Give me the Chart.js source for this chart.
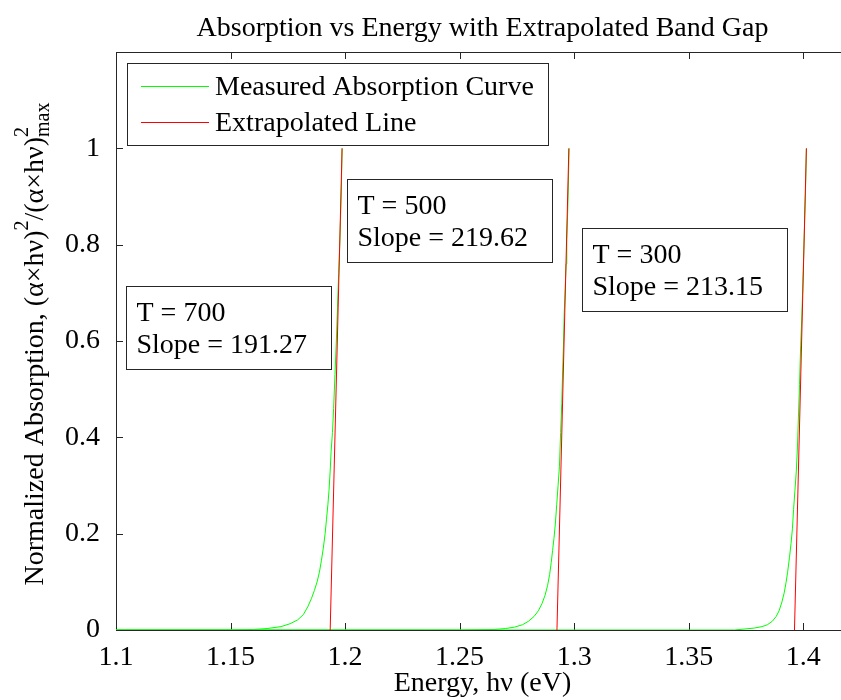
<!DOCTYPE html>
<html>
<head>
<title>Absorption vs Energy with Extrapolated Band Gap</title>
<script src="https://cdn.jsdelivr.net/npm/chart.js"></script>
<style>
html,body{margin:0;padding:0;background:#fff;overflow:hidden}
#wrap{width:880px;height:700px}
</style>
</head>
<body>
<div id="wrap"><canvas id="absChart" width="880" height="700"></canvas></div>
<script>
// axis ticks
const xTicks=[1.1,1.15,1.2,1.25,1.3,1.35,1.4];
const yTicks=[0,0.2,0.4,0.6,0.8,1];
const seriesNames=['Measured Absorption Curve','Extrapolated Line'];

// measured curves
const energy700=[1.100,1.150,1.160,1.166,1.172,1.176,1.1793,1.1818,1.1837,1.1853,1.1866,1.1878,1.1888,1.1897,1.1905,1.1913,1.1919,1.1925,1.1930,1.1935,1.1939,1.1945,1.1950,1.1956,1.1962,1.1967,1.1972,1.1976,1.1980,1.1984,1.1987];
const absorb700=[0,0,0.001,0.003,0.007,0.013,0.021,0.032,0.048,0.065,0.082,0.10,0.12,0.145,0.17,0.20,0.23,0.26,0.29,0.33,0.37,0.41,0.46,0.53,0.60,0.67,0.74,0.79,0.85,0.92,1.0];
const energy500=[1.100,1.250,1.265,1.270,1.274,1.2775,1.2800,1.2825,1.2844,1.2860,1.2873,1.2884,1.2893,1.2900,1.2906,1.2912,1.2918,1.2924,1.2930,1.2936,1.2941,1.2946,1.2950,1.2954,1.2957,1.2961,1.2965,1.2968,1.2972,1.2975,1.2978];
const absorb500=[0,0,0.001,0.003,0.006,0.011,0.018,0.028,0.04,0.055,0.072,0.092,0.115,0.14,0.165,0.19,0.22,0.26,0.30,0.34,0.41,0.47,0.54,0.60,0.66,0.71,0.76,0.81,0.87,0.93,1.0];
const energy300=[1.100,1.370,1.3786,1.3820,1.3844,1.3865,1.3882,1.3895,1.3907,1.3917,1.3925,1.3932,1.3940,1.3947,1.3953,1.3958,1.3964,1.3970,1.3975,1.3979,1.3984,1.3989,1.3994,1.3998,1.4003,1.4007,1.4011,1.4014];
const absorb300=[0,0,0.004,0.007,0.011,0.018,0.028,0.040,0.058,0.077,0.098,0.12,0.15,0.18,0.21,0.25,0.29,0.33,0.38,0.44,0.51,0.59,0.65,0.71,0.79,0.86,0.93,1.0];

// extrapolated lines
const fitEnergy700=[1.1935,1.1987];
const fitEnergy500=[1.2925,1.2977];
const fitEnergy300=[1.3962,1.4014];
const fitAbsorb=[0,1];

// text boxes
const temps=[700,500,300];
const slopes=['191.27','219.62','213.15'];

const FONT='"Liberation Serif", "Times New Roman", serif';
const GREEN='#00ff00', RED='#ff0000', AXIS='#262626';

function pts(xs,ys){return xs.map((v,i)=>({x:v,y:ys[i]}));}
function curve(xs,ys){return {data:pts(xs,ys),borderColor:GREEN,borderWidth:1,pointRadius:0,order:1};}
function fit(xs){return {data:pts(xs,fitAbsorb),borderColor:RED,borderWidth:1,pointRadius:0,order:0};}

// where the text boxes sit, in data units (left, top)
const noteAt=[{x:1.1044,y:0.714},{x:1.2009,y:0.936},{x:1.3035,y:0.835}];

const frame={
    id:'frame',
    beforeDatasetsDraw(c){
        const {ctx,chartArea:a,scales:{x,y}}=c;
        ctx.save();
        ctx.strokeStyle=AXIS;ctx.lineWidth=1;
        ctx.strokeRect(a.left+0.5,a.top+0.5,a.right-a.left,a.bottom-a.top);
        ctx.beginPath();
        xTicks.forEach(v=>{
            const px=Math.round(x.getPixelForValue(v))+0.5;
            ctx.moveTo(px,a.bottom);ctx.lineTo(px,a.bottom-7);
            ctx.moveTo(px,a.top);ctx.lineTo(px,a.top+7);
        });
        yTicks.forEach(v=>{
            const py=Math.round(y.getPixelForValue(v))+0.5;
            ctx.moveTo(a.left,py);ctx.lineTo(a.left+7,py);
            ctx.moveTo(a.right,py);ctx.lineTo(a.right-7,py);
        });
        ctx.stroke();
        ctx.restore();
    }
};

const extras={
    id:'extras',
    afterDraw(c){
        const {ctx,chartArea:a,scales:{x,y}}=c;
        ctx.save();
        ctx.fillStyle='#000';
        // title
        ctx.font='28px '+FONT;
        ctx.textAlign='center';ctx.textBaseline='alphabetic';
        ctx.fillText('Absorption vs Energy with Extrapolated Band Gap',(a.left+a.right)/2,36);

        // legend
        const lx=a.left+11, ly=a.top+11;
        ctx.fillStyle='#fff';ctx.fillRect(lx,ly,421,82);
        ctx.strokeStyle=AXIS;ctx.lineWidth=1;
        ctx.strokeRect(lx+0.5,ly+0.5,421,82);
        [GREEN,RED].forEach((col,i)=>{
            const yy=ly+23+i*36+0.5;
            ctx.strokeStyle=col;
            ctx.beginPath();ctx.moveTo(lx+14,yy);ctx.lineTo(lx+82,yy);ctx.stroke();
            ctx.fillStyle='#000';ctx.textAlign='left';ctx.textBaseline='middle';
            ctx.fillText(seriesNames[i],lx+88,yy+1);
        });

        // annotation boxes
        temps.forEach((t,i)=>{
            const bx=Math.round(x.getPixelForValue(noteAt[i].x))+0.5;
            const by=Math.round(y.getPixelForValue(noteAt[i].y))+0.5;
            ctx.fillStyle='#fff';ctx.fillRect(bx,by,205,83);
            ctx.strokeStyle=AXIS;ctx.strokeRect(bx,by,205,83);
            ctx.fillStyle='#000';ctx.textAlign='left';ctx.textBaseline='alphabetic';
            ctx.fillText('T = '+t,bx+10,by+34);
            ctx.fillText('Slope = '+slopes[i],bx+10,by+66);
        });

        // y label with super/subscripts
        const big='28px '+FONT, small='20px '+FONT;
        const p1='Normalized Absorption, (α×hν)', p2='/(α×hν)';
        ctx.font=big;
        const w1=ctx.measureText(p1).width, w2=ctx.measureText(p2).width;
        ctx.font=small;
        const ws=ctx.measureText('2').width, wm=ctx.measureText('max').width;
        const total=w1+ws+w2+Math.max(ws,wm);
        ctx.translate(43,(a.top+a.bottom)/2+3);
        ctx.rotate(-Math.PI/2);
        ctx.textAlign='left';ctx.textBaseline='alphabetic';
        let cx=-total/2;
        ctx.font=big;ctx.fillText(p1,cx,0);cx+=w1;
        ctx.font=small;ctx.fillText('2',cx,-15);cx+=ws;
        ctx.font=big;ctx.fillText(p2,cx,0);cx+=w2;
        ctx.font=small;ctx.fillText('2',cx,-15);ctx.fillText('max',cx,6);
        ctx.restore();
    }
};

const fmt=v=>String(Math.round(v*100)/100);

new Chart(document.getElementById('absChart'),{
    type:'line',
    data:{datasets:[
        curve(energy700,absorb700),curve(energy500,absorb500),curve(energy300,absorb300),
        fit(fitEnergy700),fit(fitEnergy500),fit(fitEnergy300)
    ]},
    options:{
        responsive:false,animation:false,events:[],
        layout:{padding:{top:52,right:31,left:0,bottom:0}},
        elements:{line:{tension:0}},
        plugins:{legend:{display:false},title:{display:false},tooltip:{enabled:false}},
        scales:{
            x:{
                type:'linear',min:1.1,max:1.42,
                afterBuildTicks:s=>{s.ticks=xTicks.map(v=>({value:v}));},
                afterFit:s=>{s.height=70;},
                grid:{display:false},border:{display:false},
                ticks:{color:'#000',font:{family:FONT,size:28},padding:3,callback:fmt,maxRotation:0,autoSkip:false},
                title:{display:true,text:'Energy, hν (eV)',color:'#000',font:{family:FONT,size:28},padding:{top:0,bottom:0}}
            },
            y:{
                type:'linear',min:0,max:1.2,
                afterBuildTicks:s=>{s.ticks=yTicks.map(v=>({value:v}));},
                afterFit:s=>{s.width=116;},
                grid:{display:false},border:{display:false},
                ticks:{color:'#000',font:{family:FONT,size:28},padding:8,callback:fmt,autoSkip:false}
            }
        }
    },
    plugins:[frame,extras]
});
</script>
</body>
</html>
